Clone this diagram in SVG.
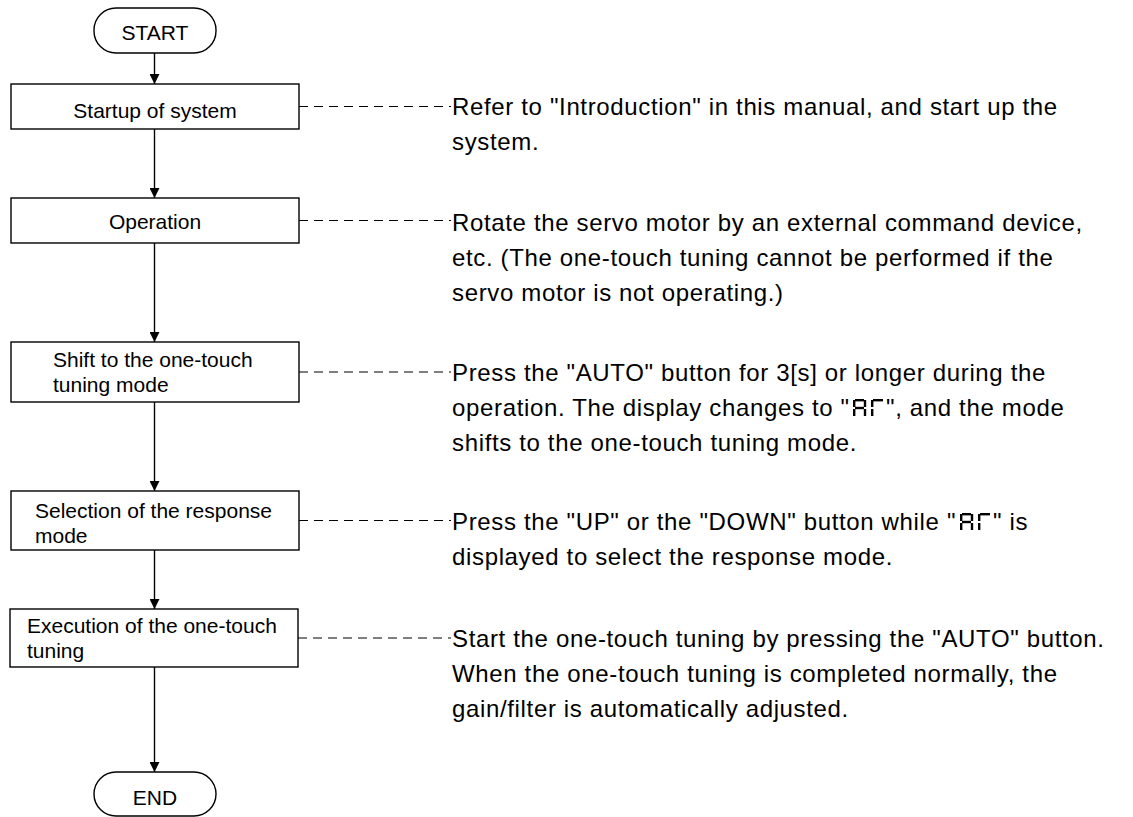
<svg xmlns="http://www.w3.org/2000/svg" width="1133" height="817" viewBox="0 0 1133 817">
<style>
.box{fill:#fff;stroke:#000;stroke-width:1.4}
.term{fill:#fff;stroke:#000;stroke-width:1.4}
.bt{font-family:"Liberation Sans",Arial,sans-serif;font-size:21px;fill:#000}
.ds{font-family:"Liberation Sans",Arial,sans-serif;font-size:24px;letter-spacing:0.65px;fill:#000}
.flow{stroke:#000;stroke-width:1.4;fill:none}
.dash{stroke:#000;stroke-width:1.2;stroke-dasharray:9 6;fill:none}
.seg{stroke:#000;stroke-width:2.4;stroke-linecap:butt}
</style>
<defs>
<marker id="ah" markerUnits="userSpaceOnUse" markerWidth="12" markerHeight="10" refX="10" refY="5" orient="auto">
<path d="M0,0 L10,5 L0,10 Z" fill="#000"/>
</marker>
<g id="d7A">
<line class="seg" x1="2" y1="1.2" x2="11" y2="1.2"/>
<line class="seg" x1="12" y1="1" x2="12" y2="8"/>
<line class="seg" x1="12" y1="10" x2="12" y2="17"/>
<line class="seg" x1="1.2" y1="1" x2="1.2" y2="8"/>
<line class="seg" x1="1.2" y1="10" x2="1.2" y2="17"/>
<line class="seg" x1="2" y1="9" x2="11" y2="9"/>
</g>
<g id="d7G">
<line class="seg" x1="2" y1="1.2" x2="12" y2="1.2"/>
<line class="seg" x1="1.2" y1="1" x2="1.2" y2="8"/>
<line class="seg" x1="1.2" y1="10" x2="1.2" y2="17"/>
</g>
</defs>

<g id="connectors">
<line class="flow" x1="154.5" y1="53" x2="154.5" y2="84" marker-end="url(#ah)"/>
<line class="flow" x1="154.5" y1="129" x2="154.5" y2="198" marker-end="url(#ah)"/>
<line class="flow" x1="154.5" y1="243" x2="154.5" y2="342" marker-end="url(#ah)"/>
<line class="flow" x1="154.5" y1="402" x2="154.5" y2="491" marker-end="url(#ah)"/>
<line class="flow" x1="154.5" y1="550" x2="154.5" y2="609" marker-end="url(#ah)"/>
<line class="flow" x1="154.5" y1="667" x2="154.5" y2="772" marker-end="url(#ah)"/>
<line class="dash" x1="299" y1="106.5" x2="451" y2="106.5"/>
<line class="dash" x1="299" y1="220.5" x2="451" y2="220.5"/>
<line class="dash" x1="299" y1="372" x2="451" y2="372"/>
<line class="dash" x1="299" y1="520.5" x2="451" y2="520.5"/>
<line class="dash" x1="298" y1="638" x2="451" y2="638"/>
</g>

<g id="start">
<rect class="term" x="94" y="8" width="122" height="45" rx="22" ry="22"/>
<text class="bt" x="155" y="39.5" text-anchor="middle">START</text>
</g>

<g id="startup">
<rect class="box" x="11" y="84" width="288" height="45"/>
<text class="bt" x="155" y="117.5" text-anchor="middle">Startup of system</text>
</g>

<g id="operation">
<rect class="box" x="11" y="198" width="288" height="45"/>
<text class="bt" x="155" y="229" text-anchor="middle">Operation</text>
</g>

<g id="shift">
<rect class="box" x="11" y="342" width="288" height="60"/>
<text class="bt" x="53" y="367">Shift to the one-touch</text>
<text class="bt" x="53" y="392">tuning mode</text>
</g>

<g id="selection">
<rect class="box" x="11" y="491" width="288" height="59"/>
<text class="bt" x="35" y="517.5">Selection of the response</text>
<text class="bt" x="35" y="542.5">mode</text>
</g>

<g id="execution">
<rect class="box" x="10" y="609" width="288" height="58"/>
<text class="bt" x="27" y="633">Execution of the one-touch</text>
<text class="bt" x="27" y="658">tuning</text>
</g>

<g id="end">
<rect class="term" x="94" y="772" width="122" height="44" rx="22" ry="22"/>
<text class="bt" x="155" y="804.5" text-anchor="middle">END</text>
</g>

<g id="desc-startup">
<text class="ds" x="452" y="115">Refer to "Introduction" in this manual, and start up the</text>
<text class="ds" x="452" y="150">system.</text>
</g>

<g id="desc-operation">
<text class="ds" x="452" y="231">Rotate the servo motor by an external command device,</text>
<text class="ds" x="452" y="266">etc. (The one-touch tuning cannot be performed if the</text>
<text class="ds" x="452" y="301">servo motor is not operating.)</text>
</g>

<g id="desc-shift">
<text class="ds" x="452" y="381">Press the "AUTO" button for 3[s] or longer during the</text>
<text class="ds" x="452" y="416">operation. The display changes to "</text>
<use href="#d7A" x="853" y="399"/>
<use href="#d7G" x="871" y="399"/>
<text class="ds" x="886" y="416">", and the mode</text>
<text class="ds" x="452" y="451">shifts to the one-touch tuning mode.</text>
</g>

<g id="desc-selection">
<text class="ds" x="452" y="530">Press the "UP" or the "DOWN" button while "</text>
<use href="#d7A" x="960" y="513"/>
<use href="#d7G" x="978" y="513"/>
<text class="ds" x="993" y="530">" is</text>
<text class="ds" x="452" y="565">displayed to select the response mode.</text>
</g>

<g id="desc-execution">
<text class="ds" x="452" y="647">Start the one-touch tuning by pressing the "AUTO" button.</text>
<text class="ds" x="452" y="682">When the one-touch tuning is completed normally, the</text>
<text class="ds" x="452" y="717">gain/filter is automatically adjusted.</text>
</g>
</svg>
